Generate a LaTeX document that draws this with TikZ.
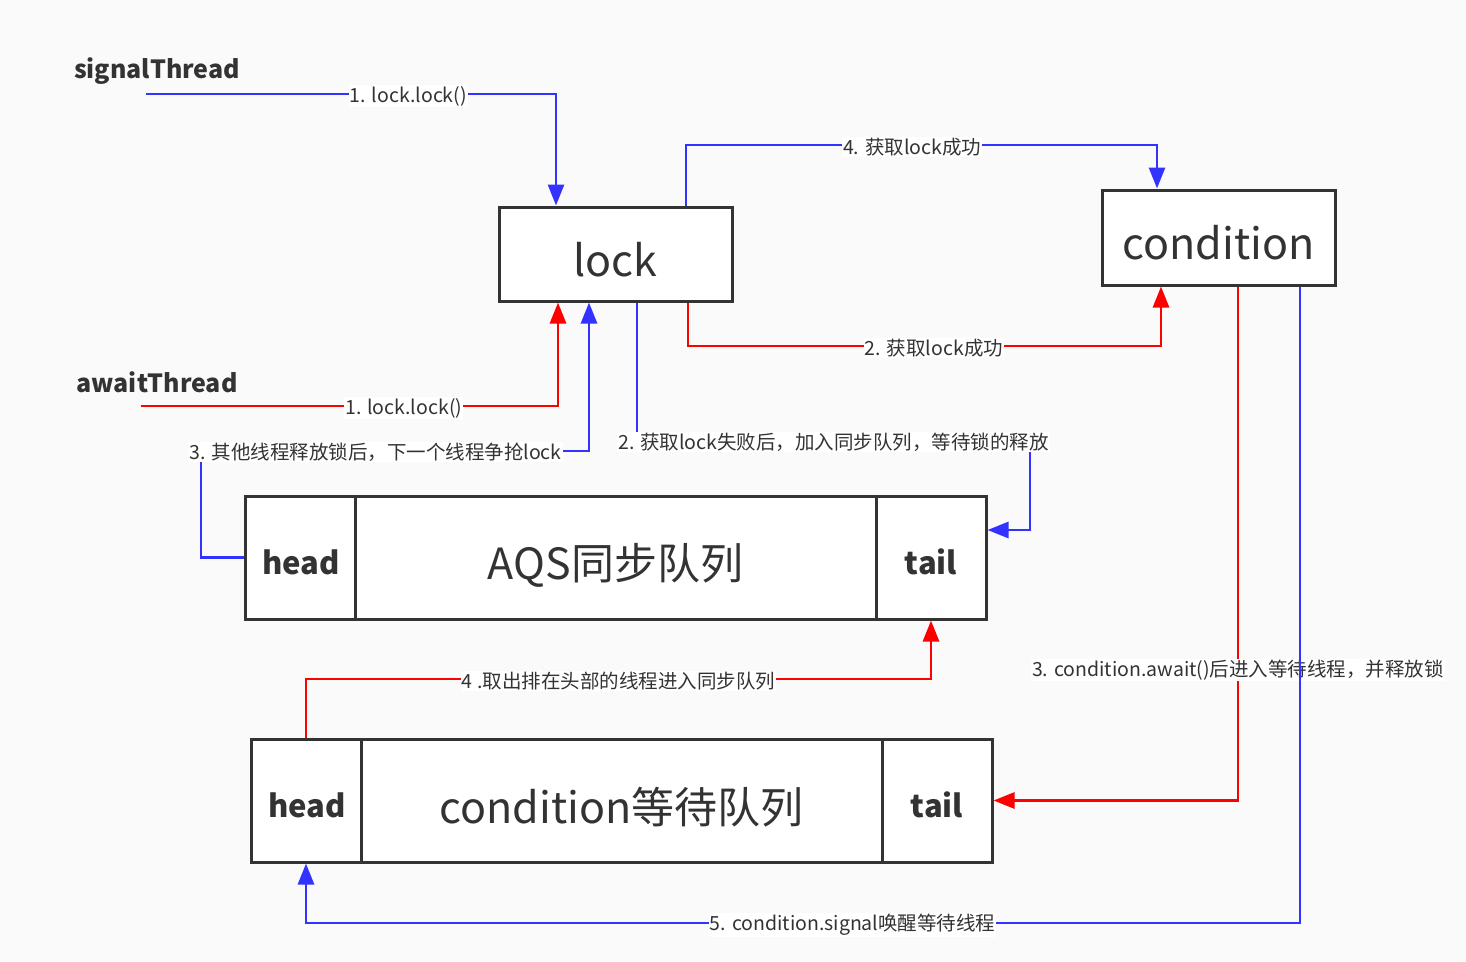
\documentclass[tikz,border=0pt]{standalone}
\usepackage{fontspec}
\setmainfont{Noto Sans CJK SC}
\usepackage{xcolor}
\usetikzlibrary{arrows.meta}

\definecolor{bgcol}{HTML}{FAFAFA}
\definecolor{inkcol}{HTML}{333333}
\definecolor{bluecol}{HTML}{3333FF}
\definecolor{redcol}{HTML}{FF0000}

\begin{document}
\begin{tikzpicture}[x=1pt,y=-1pt]

        \tikzstyle{cell}=[draw=inkcol,line width=3pt,fill=white,inner sep=0pt,text=inkcol]
        \tikzstyle{bigtxt}=[font=\fontsize{43}{46}\selectfont]
        \tikzstyle{headtxt}=[font=\bfseries\fontsize{31}{34}\selectfont]
        \tikzstyle{thread}=[text=inkcol,font=\bfseries\fontsize{25}{28}\selectfont]
        \tikzstyle{lbl}=[fill=white,inner sep=1pt,text=inkcol,font=\fontsize{19.5}{21}\selectfont]
        \tikzstyle{blueline}=[draw=bluecol,line width=2.8pt,-{Triangle[length=21pt,width=16pt]}]
        \tikzstyle{redline}=[draw=redcol,line width=2.8pt,-{Triangle[length=21pt,width=16pt]}]

        %% background and page size
        \fill[bgcol] (0,0) rectangle (1466,961);
        \useasboundingbox (0,0) rectangle (1466,961);

        %% threads
        \node[thread] (sigthread) at (157,71) {signalThread};
        \node[thread] (awthread) at (157,382) {awaitThread};
        \coordinate (sigstart) at (146,94);
        \coordinate (awstart) at (141,406);

        %% lock and condition
        \node[cell,minimum width=233pt,minimum height=94pt] (lock) at (615.5,254) {};
        \node[cell,minimum width=233pt,minimum height=95pt] (cond) at (1218.5,237.5) {};
        \node[bigtxt,text=inkcol] (locktxt) at (615.5,260) {lock};
        \node[bigtxt,text=inkcol] (condtxt) at (1218.5,243) {condition};

        %% AQS queue
        \node[cell,minimum width=110pt,minimum height=123pt] (aqshead) at (300,557.5) {};
        \node[cell,minimum width=521pt,minimum height=123pt] (aqsbody) at (615.5,557.5) {};
        \node[cell,minimum width=110pt,minimum height=123pt] (aqstail) at (931,557.5) {};
        \node[headtxt,text=inkcol] at (301,562) {head};
        \node[bigtxt,text=inkcol] at (615.5,565) {AQS同步队列};
        \node[headtxt,text=inkcol] at (931,562) {tail};

        %% condition queue
        \node[cell,minimum width=110pt,minimum height=123pt] (cqhead) at (306,800.5) {};
        \node[cell,minimum width=521pt,minimum height=123pt] (cqbody) at (621.5,800.5) {};
        \node[cell,minimum width=110pt,minimum height=123pt] (cqtail) at (937,800.5) {};
        \node[headtxt,text=inkcol] at (307,805) {head};
        \node[bigtxt,text=inkcol] at (621.5,807) {condition等待队列};
        \node[headtxt,text=inkcol] at (937,805) {tail};

        %% signalThread
        \draw[blueline] (sigstart) -- node[lbl,pos=0.64,yshift=-2pt] {1. lock.lock()} (556,94) -- (556,0 |- lock.north);

        %% awaitThread
        \draw[redline] (awstart) -- node[lbl,pos=0.63,yshift=-2pt] {1. lock.lock()} (558,406) -- (558,0 |- lock.south);

        %% lock -> condition
        \draw[redline] (688,0 |- lock.south) -- (688,346) -- node[lbl,pos=0.52,yshift=-2pt] {2. 获取lock成功} (1161,346) -- (1161,0 |- cond.south);
        \draw[blueline] (686,0 |- lock.north) -- (686,145) -- node[lbl,pos=0.48,yshift=-2pt] {4. 获取lock成功} (1157,145) -- (1157,0 |- cond.north);

        %% lock <-> AQS queue
        \draw[blueline] (637,0 |- lock.south) -- (637,441) -- node[lbl,yshift=-1pt] {2. 获取lock失败后，加入同步队列，等待锁的释放} (1030,441) -- (1030,530) -- (aqstail.east |- 0,530);
        \draw[blueline] (aqshead.west) -- (201,557.5) -- (201,451) -- node[lbl,pos=0.45,yshift=-1pt] {3. 其他线程释放锁后，下一个线程争抢lock} (589,451) -- (589,0 |- lock.south);

        %% condition queue
        \draw[redline] (1238,0 |- cond.south) -- node[lbl,pos=0.744,yshift=-1pt] {3. condition.await()后进入等待线程，并释放锁} (1238,800.5) -- (cqtail.east);
        \draw[redline] (cqhead.north) -- (306,679) -- node[lbl,yshift=-2pt] {4 .取出排在头部的线程进入同步队列} (931,679) -- (aqstail.south);
        \draw[blueline] (1300,0 |- cond.south) -- (1300,923) -- node[lbl,pos=0.45,yshift=-2pt] {5. condition.signal唤醒等待线程} (306,923) -- (cqhead.south);

\end{tikzpicture}
\end{document}
